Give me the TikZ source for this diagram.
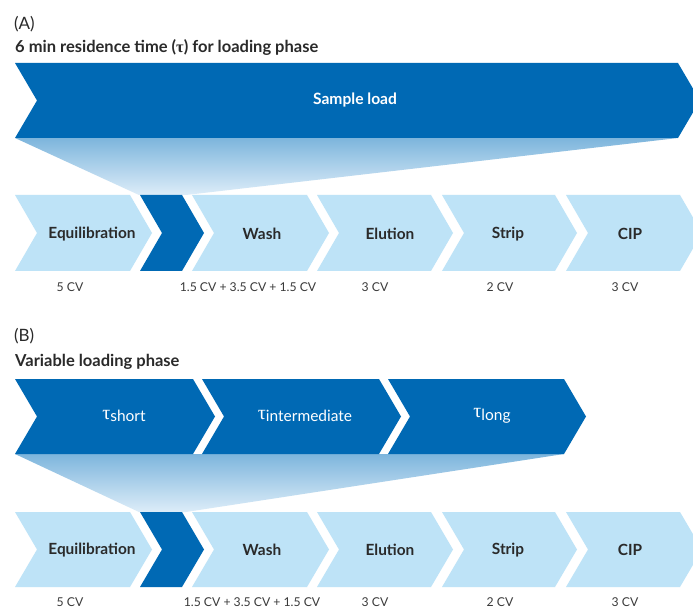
\documentclass[tikz,border=0pt]{standalone}
\usepackage{fontspec}
\setmainfont{Lato}
\newfontfamily\grk{Liberation Serif}
\definecolor{dblue}{HTML}{0069B4}
\definecolor{lblue}{HTML}{BEE3F7}
\definecolor{ftop}{HTML}{7DB5DC}
\definecolor{fbot}{HTML}{DDEDF9}
\definecolor{txt}{HTML}{2A2A2A}
\definecolor{cvtxt}{HTML}{3A3A3A}
% x0, ytop, top width, height, fill
\newcommand{\chv}[5]{%
  \fill[#5] (#1,#2) -- ({#1+#3},#2) -- ({#1+#3+22},{#2+#4/2}) -- ({#1+#3},{#2+#4})
    -- (#1,{#2+#4}) -- ({#1+22},{#2+#4/2}) -- cycle;}
\newcommand{\tauphase}[1]{{\grk\fontsize{20}{20}\selectfont τ}\raisebox{-2.5pt}{#1}}
\tikzset{
  panel/.style={font=\fontsize{17}{20}\selectfont, text=txt, anchor=west, inner sep=0pt},
  title/.style={font=\bfseries\fontsize{16.5}{19}\selectfont, text=txt, anchor=west, inner sep=0pt},
  lbl/.style={font=\bfseries\fontsize{15.4}{18}\selectfont, text=txt, inner sep=0pt},
  wlbl/.style={font=\bfseries\fontsize{15.6}{18}\selectfont, text=white, inner sep=0pt},
  tlbl/.style={font=\fontsize{15.5}{18}\selectfont, text=white, inner sep=0pt},
  cv/.style={font=\fontsize{12.2}{14}\selectfont, text=cvtxt, inner sep=0pt},
  funnel/.style={top color=ftop, bottom color=fbot, draw=none}
}
\begin{document}
\begin{tikzpicture}[x=1pt,y=-1pt]
\useasboundingbox (0,0) rectangle (693,609);
\clip (0,0) rectangle (693,609);
\fill[white] (0,0) rectangle (693,609);

% ---------------- Panel A ----------------
\node[panel] (pA) at (14,24) {(A)};
\node[title] (tA) at (15,48) {6 min residence time ({\grk τ}) for loading phase};

\shade[funnel] (15,138) -- (678,138) -- (186,195) -- (139,195) -- cycle;
\chv{15}{63}{663}{75}{dblue}
\node[wlbl] (sl) at (355,100) {Sample load};

\chv{15}{195}{115}{76}{lblue}
\chv{140}{195}{42}{76}{dblue}
\chv{192}{195}{115}{76}{lblue}
\chv{317}{195}{114}{76}{lblue}
\chv{442}{195}{113}{76}{lblue}
\chv{566}{195}{114}{76}{lblue}

\node[lbl] (eqA) at (92,234) {Equilibration};
\node[lbl] (waA) at (262,234) {Wash};
\node[lbl] (elA) at (390,234) {Elution};
\node[lbl] (stA) at (508,234) {Strip};
\node[lbl] (ciA) at (630,234) {CIP};

\node[cv] (cv1A) at (70,287) {5 CV};
\node[cv] (cv2A) at (248,287) {1.5 CV + 3.5 CV + 1.5 CV};
\node[cv] (cv3A) at (375,287) {3 CV};
\node[cv] (cv4A) at (500,287) {2 CV};
\node[cv] (cv5A) at (625,287) {3 CV};

% ---------------- Panel B ----------------
\node[panel] (pB) at (14,336) {(B)};
\node[title] (tB) at (15,362) {Variable loading phase};

\shade[funnel] (15,454) -- (564,454) -- (186,512) -- (139,512) -- cycle;
\chv{15}{379}{178}{75}{dblue}
\chv{202}{379}{177}{75}{dblue}
\chv{388}{379}{176}{75}{dblue}
\node[tlbl] (ts) at (124,416) {\tauphase{short}};
\node[tlbl] (ti) at (305,416) {\tauphase{intermediate}};
\node[tlbl] (tl) at (492,416) {\tauphase{long}};

\chv{15}{512}{115}{75}{lblue}
\chv{140}{512}{42}{75}{dblue}
\chv{192}{512}{115}{75}{lblue}
\chv{317}{512}{114}{75}{lblue}
\chv{442}{512}{113}{75}{lblue}
\chv{566}{512}{114}{75}{lblue}

\node[lbl] (eqB) at (92,550) {Equilibration};
\node[lbl] (waB) at (262,550) {Wash};
\node[lbl] (elB) at (390,550) {Elution};
\node[lbl] (stB) at (508,550) {Strip};
\node[lbl] (ciB) at (630,550) {CIP};

\node[cv] (cv1B) at (70,602) {5 CV};
\node[cv] (cv2B) at (252,602) {1.5 CV + 3.5 CV + 1.5 CV};
\node[cv] (cv3B) at (375,602) {3 CV};
\node[cv] (cv4B) at (500,602) {2 CV};
\node[cv] (cv5B) at (625,602) {3 CV};
\end{tikzpicture}
\end{document}
